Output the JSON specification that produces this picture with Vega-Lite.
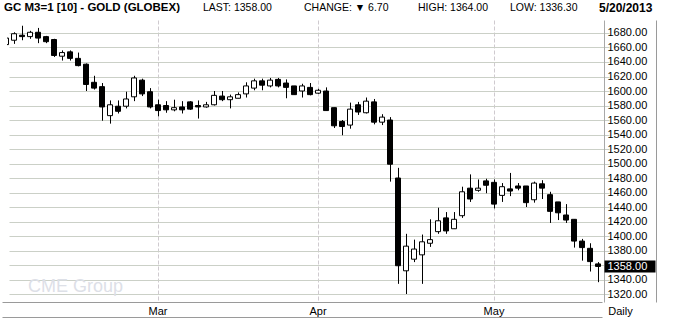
{
  "$schema": "https://vega.github.io/schema/vega-lite/v6.json",
  "width": 597,
  "height": 282,
  "autosize": {"type": "none"},
  "padding": {"left": 7, "top": 20, "right": 70, "bottom": 21},
  "background": "white",
  "config": {"view": {"stroke": null}, "font": "Liberation Sans"},
  "datasets": {
    "ohlc": [
      {"date": "2013-02-01", "open": 1664, "high": 1676, "low": 1661, "close": 1673},
      {"date": "2013-02-04", "open": 1670, "high": 1681, "low": 1665, "close": 1679},
      {"date": "2013-02-05", "open": 1677, "high": 1690, "low": 1670, "close": 1675},
      {"date": "2013-02-06", "open": 1675, "high": 1683, "low": 1672, "close": 1681},
      {"date": "2013-02-07", "open": 1681, "high": 1687, "low": 1666, "close": 1673},
      {"date": "2013-02-08", "open": 1675, "high": 1676, "low": 1666, "close": 1668},
      {"date": "2013-02-11", "open": 1671, "high": 1672, "low": 1647, "close": 1649},
      {"date": "2013-02-12", "open": 1648, "high": 1656, "low": 1642, "close": 1653},
      {"date": "2013-02-13", "open": 1654, "high": 1656, "low": 1642, "close": 1645},
      {"date": "2013-02-14", "open": 1645, "high": 1653, "low": 1634, "close": 1635},
      {"date": "2013-02-15", "open": 1637, "high": 1638, "low": 1600, "close": 1609},
      {"date": "2013-02-19", "open": 1612, "high": 1621, "low": 1602, "close": 1604},
      {"date": "2013-02-20", "open": 1606, "high": 1611, "low": 1559, "close": 1578},
      {"date": "2013-02-21", "open": 1566, "high": 1587, "low": 1555, "close": 1581},
      {"date": "2013-02-22", "open": 1579, "high": 1587, "low": 1569, "close": 1572},
      {"date": "2013-02-25", "open": 1579, "high": 1599, "low": 1576, "close": 1589},
      {"date": "2013-02-26", "open": 1592, "high": 1621, "low": 1586, "close": 1618},
      {"date": "2013-02-27", "open": 1615, "high": 1617, "low": 1593, "close": 1596},
      {"date": "2013-02-28", "open": 1599, "high": 1604, "low": 1576, "close": 1578},
      {"date": "2013-03-01", "open": 1581, "high": 1588, "low": 1565, "close": 1573},
      {"date": "2013-03-04", "open": 1580, "high": 1586, "low": 1570, "close": 1574},
      {"date": "2013-03-05", "open": 1574, "high": 1588, "low": 1572, "close": 1577},
      {"date": "2013-03-06", "open": 1578, "high": 1586, "low": 1569, "close": 1574},
      {"date": "2013-03-07", "open": 1585, "high": 1586, "low": 1574, "close": 1575},
      {"date": "2013-03-08", "open": 1580, "high": 1587, "low": 1562, "close": 1578},
      {"date": "2013-03-11", "open": 1578, "high": 1585, "low": 1577, "close": 1581},
      {"date": "2013-03-12", "open": 1581, "high": 1600, "low": 1580, "close": 1594},
      {"date": "2013-03-13", "open": 1593, "high": 1600, "low": 1586, "close": 1588},
      {"date": "2013-03-14", "open": 1588, "high": 1595, "low": 1576, "close": 1592},
      {"date": "2013-03-15", "open": 1590, "high": 1598, "low": 1590, "close": 1595},
      {"date": "2013-03-18", "open": 1596, "high": 1612, "low": 1591, "close": 1607},
      {"date": "2013-03-19", "open": 1604, "high": 1617, "low": 1601, "close": 1614},
      {"date": "2013-03-20", "open": 1614, "high": 1617, "low": 1601, "close": 1608},
      {"date": "2013-03-21", "open": 1607, "high": 1618, "low": 1605, "close": 1615},
      {"date": "2013-03-22", "open": 1616, "high": 1618, "low": 1605, "close": 1607},
      {"date": "2013-03-25", "open": 1611, "high": 1616, "low": 1590, "close": 1605},
      {"date": "2013-03-26", "open": 1607, "high": 1607, "low": 1595, "close": 1595},
      {"date": "2013-03-27", "open": 1600, "high": 1610, "low": 1591, "close": 1607},
      {"date": "2013-03-28", "open": 1605, "high": 1611, "low": 1594, "close": 1595},
      {"date": "2013-04-01", "open": 1597, "high": 1603, "low": 1596, "close": 1601},
      {"date": "2013-04-02", "open": 1600, "high": 1605, "low": 1573, "close": 1573},
      {"date": "2013-04-03", "open": 1577, "high": 1577, "low": 1549, "close": 1552},
      {"date": "2013-04-04", "open": 1558, "high": 1560, "low": 1539, "close": 1551},
      {"date": "2013-04-05", "open": 1553, "high": 1584, "low": 1548, "close": 1575},
      {"date": "2013-04-08", "open": 1581, "high": 1585, "low": 1567, "close": 1571},
      {"date": "2013-04-09", "open": 1570, "high": 1591, "low": 1569, "close": 1586},
      {"date": "2013-04-10", "open": 1585, "high": 1589, "low": 1554, "close": 1557},
      {"date": "2013-04-11", "open": 1557, "high": 1568, "low": 1553, "close": 1564},
      {"date": "2013-04-12", "open": 1560, "high": 1564, "low": 1475, "close": 1499},
      {"date": "2013-04-15", "open": 1480, "high": 1494, "low": 1334, "close": 1359},
      {"date": "2013-04-16", "open": 1352, "high": 1403, "low": 1320, "close": 1386},
      {"date": "2013-04-17", "open": 1368, "high": 1395, "low": 1364, "close": 1382},
      {"date": "2013-04-18", "open": 1374, "high": 1402, "low": 1334, "close": 1392},
      {"date": "2013-04-19", "open": 1390, "high": 1423, "low": 1385, "close": 1395},
      {"date": "2013-04-22", "open": 1406, "high": 1439, "low": 1403, "close": 1421},
      {"date": "2013-04-23", "open": 1425, "high": 1433, "low": 1403, "close": 1407},
      {"date": "2013-04-24", "open": 1410, "high": 1433, "low": 1410, "close": 1423},
      {"date": "2013-04-25", "open": 1428, "high": 1468, "low": 1425, "close": 1461},
      {"date": "2013-04-26", "open": 1466, "high": 1485, "low": 1447, "close": 1451},
      {"date": "2013-04-29", "open": 1463, "high": 1478, "low": 1461, "close": 1466},
      {"date": "2013-04-30", "open": 1476, "high": 1479, "low": 1459, "close": 1470},
      {"date": "2013-05-01", "open": 1474, "high": 1478, "low": 1438, "close": 1444},
      {"date": "2013-05-02", "open": 1456, "high": 1473, "low": 1447, "close": 1468},
      {"date": "2013-05-03", "open": 1465, "high": 1487, "low": 1455, "close": 1462},
      {"date": "2013-05-06", "open": 1469, "high": 1473, "low": 1463, "close": 1466},
      {"date": "2013-05-07", "open": 1469, "high": 1469, "low": 1440, "close": 1446},
      {"date": "2013-05-08", "open": 1450, "high": 1475, "low": 1446, "close": 1473},
      {"date": "2013-05-09", "open": 1472, "high": 1477, "low": 1451, "close": 1466},
      {"date": "2013-05-10", "open": 1457, "high": 1461, "low": 1418, "close": 1434},
      {"date": "2013-05-13", "open": 1447, "high": 1447, "low": 1422, "close": 1432},
      {"date": "2013-05-14", "open": 1429, "high": 1444, "low": 1418, "close": 1422},
      {"date": "2013-05-15", "open": 1423, "high": 1423, "low": 1384, "close": 1393},
      {"date": "2013-05-16", "open": 1393, "high": 1396, "low": 1366, "close": 1384},
      {"date": "2013-05-17", "open": 1383, "high": 1390, "low": 1351, "close": 1364.7},
      {"date": "2013-05-20", "open": 1361.5, "high": 1364, "low": 1336.3, "close": 1358}
    ]
  },
  "resolve": {"axis": {"x": "independent", "y": "independent"}},
  "layer": [
    {
      "data": {"name": "ohlc"},
      "mark": {"type": "rule", "clip": true, "xOffset": 0.5, "strokeWidth": 1, "color": "black"},
      "encoding": {
        "x": {
          "field": "date", "type": "ordinal",
          "scale": {"type": "band", "range": [-5, 595], "paddingInner": 0, "paddingOuter": 0, "round": false},
          "axis": {
            "orient": "bottom",
            "values": ["2013-03-01", "2013-04-01", "2013-05-01"],
            "labelExpr": "datum.value == '2013-03-01' ? 'Mar' : datum.value == '2013-04-01' ? 'Apr' : 'May'",
            "bandPosition": 0.5,
            "grid": true, "gridColor": "#cfcacf", "gridDash": [4, 2], "gridWidth": 1,
            "ticks": false,
            "domain": true, "domainColor": "#9a9a9a", "domainWidth": 1,
            "labelAngle": 0, "labelFontSize": 11, "labelColor": "#000000", "labelPadding": 3, "labelFont": "Liberation Sans",
            "title": "Daily", "titleX": 613, "titleY": 9.5, "titleAlign": "center", "titleBaseline": "middle",
            "titleFontWeight": "normal", "titleFontSize": 11, "titleColor": "#000000", "titleFont": "Liberation Sans"
          }
        },
        "y": {
          "field": "low", "type": "quantitative",
          "scale": {"domain": [1308.97, 1697.93], "nice": false, "zero": false},
          "axis": {
            "orient": "right",
            "values": [1320, 1340, 1360, 1380, 1400, 1420, 1440, 1460, 1480, 1500, 1520, 1540, 1560, 1580, 1600, 1620, 1640, 1660, 1680],
            "format": ".2f",
            "labelExpr": "datum.value == 1360 ? '' : datum.label",
            "ticks": false,
            "domain": true, "domainColor": "#a8a8a8",
            "grid": true, "gridColor": "#cbd0c7", "gridWidth": 1,
            "labelFontSize": 11, "labelColor": "#000000", "labelPadding": 3, "labelFont": "Liberation Sans",
            "title": null
          }
        },
        "y2": {"field": "high"}
      }
    },
    {
      "data": {"name": "ohlc"},
      "mark": {"type": "bar", "clip": true, "size": 5, "stroke": "black", "strokeWidth": 1},
      "encoding": {
        "x": {
          "field": "date", "type": "ordinal",
          "axis": {"orient": "bottom", "offset": 15, "domain": true, "domainColor": "#9a9a9a", "labels": false, "ticks": false, "grid": false, "title": null}
        },
        "y": {
          "field": "open", "type": "quantitative",
          "axis": {
            "orient": "right", "values": [1358], "format": ".2f",
            "ticks": true, "tickSize": 51, "tickWidth": 12, "tickColor": "#000000",
            "labelColor": "#ffffff", "labelPadding": -48, "labelFontSize": 11, "labelFont": "Liberation Sans",
            "domain": false, "grid": false, "title": null
          }
        },
        "y2": {"field": "close"},
        "fill": {"condition": {"test": "datum.close > datum.open", "value": "#ffffff"}, "value": "#000000"}
      }
    },
    {
      "data": {"values": [{"label": "CME Group"}]},
      "mark": {"type": "text", "align": "left", "baseline": "middle", "dx": -2, "fontSize": 18, "color": "#dde0e7", "font": "Liberation Sans"},
      "encoding": {
        "x": {"datum": "2013-02-06", "type": "ordinal", "axis": null},
        "y": {"datum": 1330, "type": "quantitative",
              "axis": {"orient": "right", "offset": 52, "domain": true, "domainColor": "#9a9a9a", "labels": false, "ticks": false, "grid": false, "title": null}},
        "text": {"field": "label"}
      }
    },
    {
      "data": {"values": [{"label": "GC M3=1 [10] - GOLD (GLOBEX)"}]},
      "mark": {"type": "text", "align": "left", "baseline": "middle", "dx": -2, "fontSize": 11.5, "fontWeight": "bold", "color": "#000000", "font": "Liberation Sans"},
      "encoding": {
        "x": {"datum": "2013-02-01", "type": "ordinal", "axis": null},
        "y": {"datum": 1714, "type": "quantitative", "axis": null},
        "text": {"field": "label"}
      }
    },
    {
      "data": {"values": [{"label": "LAST: 1358.00"}]},
      "mark": {"type": "text", "align": "left", "baseline": "middle", "dx": -3, "fontSize": 10.5, "color": "#000000", "font": "Liberation Sans"},
      "encoding": {
        "x": {"datum": "2013-03-11", "type": "ordinal", "axis": null},
        "y": {"datum": 1714, "type": "quantitative", "axis": null},
        "text": {"field": "label"}
      }
    },
    {
      "data": {"values": [{"label": "CHANGE: ▼ 6.70"}]},
      "mark": {"type": "text", "align": "left", "baseline": "middle", "dx": 2, "fontSize": 10.5, "color": "#000000", "font": "Liberation Sans"},
      "encoding": {
        "x": {"datum": "2013-03-27", "type": "ordinal", "axis": null},
        "y": {"datum": 1714, "type": "quantitative", "axis": null},
        "text": {"field": "label"}
      }
    },
    {
      "data": {"values": [{"label": "HIGH: 1364.00"}]},
      "mark": {"type": "text", "align": "left", "baseline": "middle", "dx": 4, "fontSize": 10.5, "color": "#000000", "font": "Liberation Sans"},
      "encoding": {
        "x": {"datum": "2013-04-17", "type": "ordinal", "axis": null},
        "y": {"datum": 1714, "type": "quantitative", "axis": null},
        "text": {"field": "label"}
      }
    },
    {
      "data": {"values": [{"label": "LOW: 1336.30"}]},
      "mark": {"type": "text", "align": "left", "baseline": "middle", "dx": 0, "fontSize": 10.5, "color": "#000000", "font": "Liberation Sans"},
      "encoding": {
        "x": {"datum": "2013-05-03", "type": "ordinal", "axis": null},
        "y": {"datum": 1714, "type": "quantitative", "axis": null},
        "text": {"field": "label"}
      }
    },
    {
      "data": {"values": [{"label": "5/20/2013"}]},
      "mark": {"type": "text", "align": "left", "baseline": "middle", "dx": 1, "fontSize": 12, "fontWeight": "bold", "color": "#000000", "font": "Liberation Sans"},
      "encoding": {
        "x": {"datum": "2013-05-20", "type": "ordinal", "axis": null},
        "y": {"datum": 1714, "type": "quantitative", "axis": null},
        "text": {"field": "label"}
      }
    }
  ]
}
